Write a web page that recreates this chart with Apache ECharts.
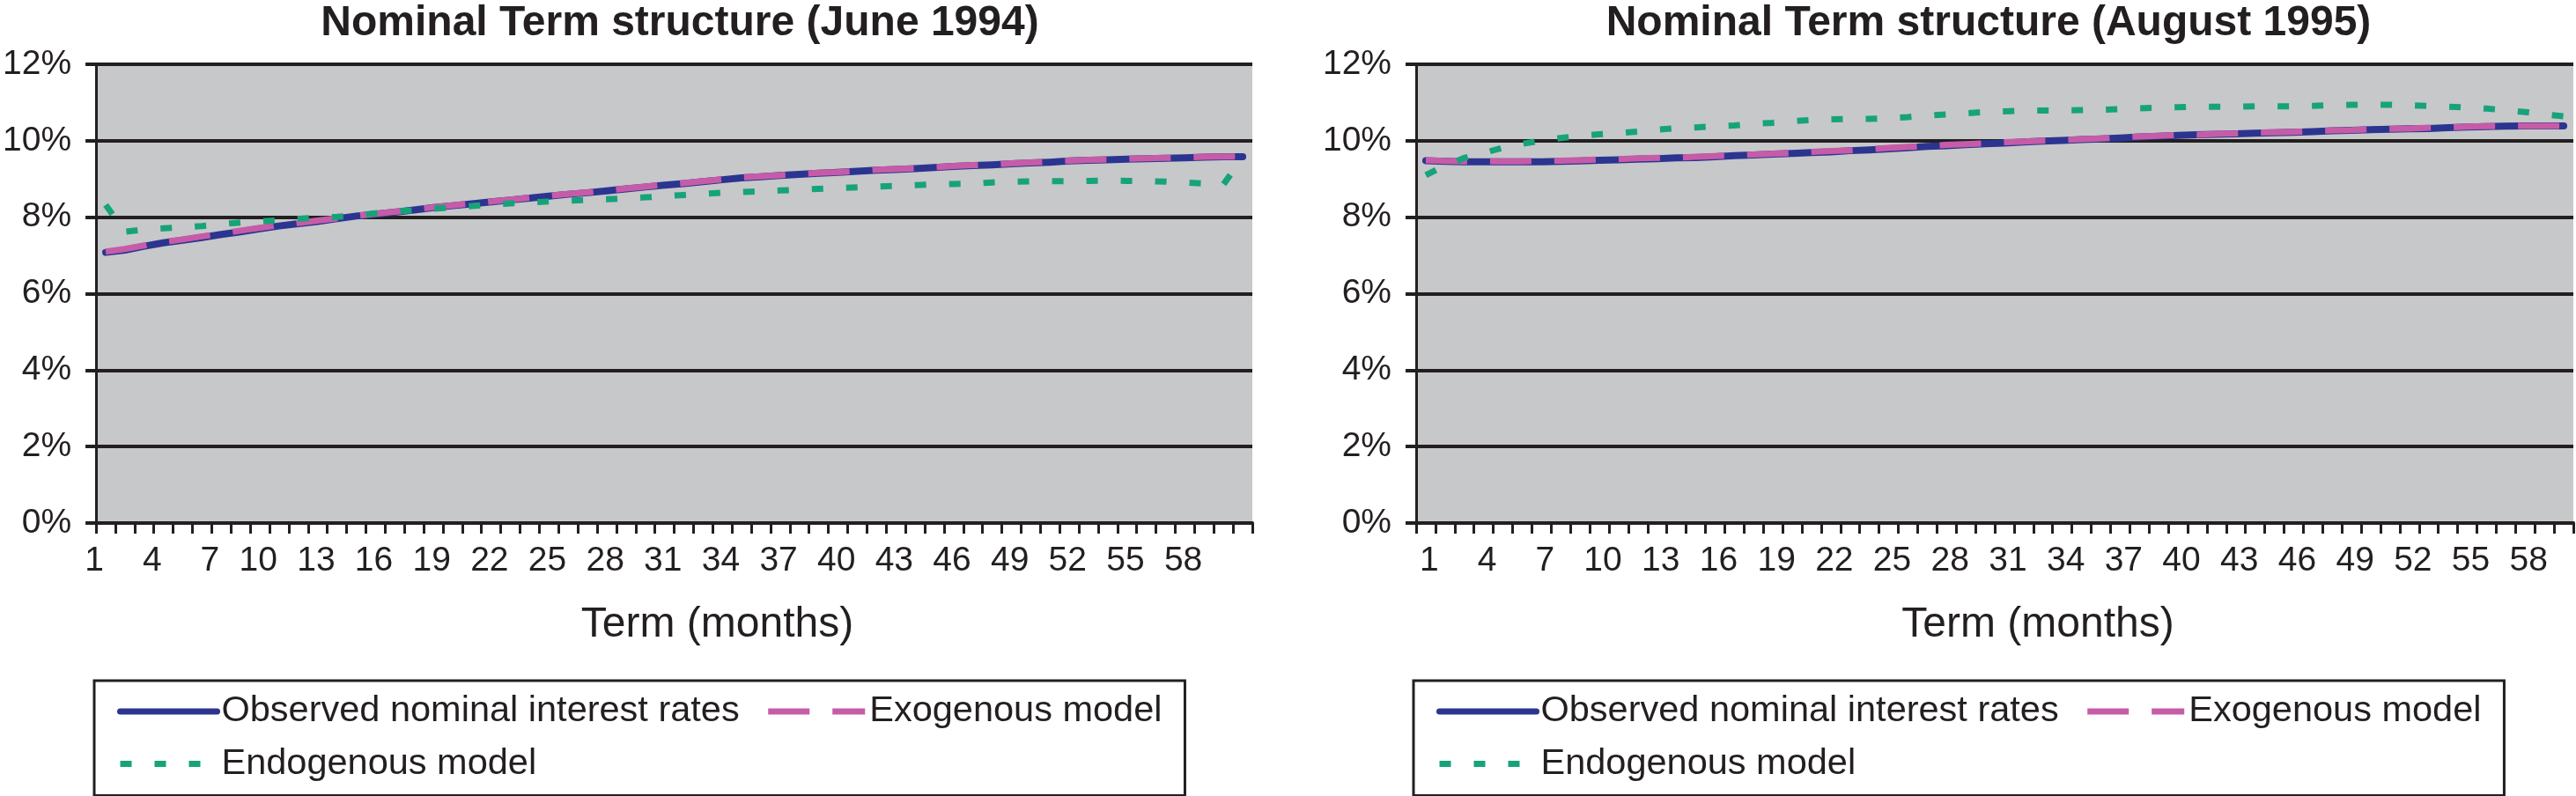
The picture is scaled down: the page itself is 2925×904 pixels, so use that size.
<!DOCTYPE html>
<html>
<head>
<meta charset="utf-8">
<script src="https://cdn.jsdelivr.net/npm/echarts@6/dist/echarts.min.js"></script>
<style>
html,body{margin:0;padding:0;background:#fff;}
#c{width:2925px;height:904px;}
</style>
</head>
<body>
<div id="c"></div>
<script>
// Terms (months)
var terms = [];
for (var t = 1; t <= 60; t++) terms.push(String(t));

var yTicks = [0, 2, 4, 6, 8, 10, 12];

var titleLeft = 'Nominal Term structure (June 1994)';
var titleRight = 'Nominal Term structure (August 1995)';
var xName = 'Term (months)';
var seriesNames = ['Observed nominal interest rates', 'Exogenous model', 'Endogenous model'];

// June 1994 (percent)
var obsJun94 = [7.08,7.14,7.24,7.33,7.40,7.47,7.55,7.62,7.70,7.77,
                7.83,7.89,7.96,8.03,8.08,8.13,8.19,8.25,8.30,8.35,
                8.40,8.45,8.50,8.55,8.60,8.64,8.69,8.74,8.79,8.84,
                8.88,8.93,8.98,9.03,9.06,9.09,9.12,9.15,9.17,9.20,
                9.23,9.25,9.27,9.30,9.33,9.35,9.37,9.40,9.42,9.44,
                9.47,9.49,9.50,9.52,9.53,9.54,9.55,9.57,9.58,9.58];
var exoJun94 = [7.10,7.17,7.26,7.35,7.42,7.50,7.57,7.65,7.72,7.79,
                7.85,7.91,7.97,8.03,8.09,8.14,8.20,8.26,8.31,8.36,
                8.41,8.46,8.51,8.56,8.61,8.65,8.70,8.75,8.80,8.85,
                8.89,8.94,8.99,9.04,9.07,9.10,9.13,9.16,9.18,9.21,
                9.24,9.26,9.28,9.31,9.34,9.36,9.38,9.41,9.43,9.45,
                9.48,9.50,9.51,9.53,9.54,9.55,9.56,9.58,9.59,9.59];
var endoJun94 = [8.32,7.62,7.68,7.71,7.74,7.77,7.82,7.86,7.89,7.92,
                 7.96,7.99,8.01,8.05,8.10,8.15,8.18,8.22,8.26,8.29,
                 8.33,8.36,8.39,8.41,8.43,8.45,8.47,8.49,8.52,8.55,
                 8.58,8.61,8.64,8.66,8.68,8.70,8.72,8.74,8.76,8.78,
                 8.80,8.82,8.84,8.86,8.87,8.88,8.91,8.93,8.94,8.94,
                 8.94,8.95,8.96,8.95,8.94,8.93,8.91,8.88,8.86,9.55];

// August 1995 (percent)
var obsAug95 = [9.48,9.46,9.45,9.45,9.45,9.45,9.45,9.46,9.47,9.49,
                9.50,9.52,9.53,9.55,9.56,9.58,9.61,9.63,9.65,9.67,
                9.69,9.71,9.74,9.76,9.79,9.82,9.85,9.87,9.90,9.92,
                9.94,9.97,9.99,10.01,10.03,10.05,10.07,10.10,10.12,10.14,
                10.16,10.17,10.18,10.20,10.21,10.22,10.24,10.26,10.27,10.29,
                10.30,10.31,10.32,10.34,10.36,10.37,10.38,10.39,10.39,10.39];
var exoAug95 = [9.49,9.47,9.46,9.46,9.46,9.46,9.47,9.48,9.49,9.51,
                9.52,9.54,9.55,9.56,9.58,9.60,9.62,9.64,9.66,9.68,
                9.71,9.73,9.75,9.78,9.81,9.84,9.86,9.89,9.91,9.93,
                9.96,9.98,10.00,10.02,10.04,10.06,10.09,10.11,10.13,10.15,
                10.16,10.18,10.19,10.21,10.22,10.23,10.25,10.27,10.28,10.30,
                10.31,10.32,10.34,10.35,10.37,10.38,10.38,10.39,10.39,10.39];
var endoAug95 = [9.10,9.35,9.55,9.68,9.82,9.92,10.00,10.07,10.13,10.17,
                 10.20,10.24,10.29,10.33,10.35,10.38,10.40,10.44,10.47,10.51,
                 10.54,10.56,10.57,10.57,10.59,10.62,10.66,10.69,10.72,10.75,
                 10.77,10.79,10.79,10.79,10.80,10.81,10.83,10.85,10.87,10.88,
                 10.89,10.89,10.89,10.90,10.90,10.90,10.91,10.93,10.94,10.94,
                 10.94,10.93,10.91,10.89,10.87,10.84,10.80,10.75,10.69,10.64];

var FONT = '"Liberation Sans", Arial, Helvetica, sans-serif';
var INK = '#231F20';
var BLUE = '#2B3590', PINK = '#C65CA8', GREEN = '#17A37A';
var PLOTBG = '#C7C8CA';

function grid(left) {
  return { left: left, top: 73, width: 1314, height: 521, show: true,
           backgroundColor: PLOTBG, borderWidth: 0, containLabel: false };
}
function xAxis(gi, labelAlign, labelPad) {
  return {
    type: 'category', gridIndex: gi, data: terms, boundaryGap: true,
    axisLine: { show: true, lineStyle: { color: INK, width: 4 } },
    axisTick: { show: true, interval: 0, length: 12, lineStyle: { color: INK, width: 3 } },
    axisLabel: { interval: 2, fontSize: 39, color: INK, fontFamily: FONT, margin: 24,
                 align: labelAlign, padding: labelPad },
    splitLine: { show: false },
    name: xName, nameLocation: 'middle', nameGap: 92,
    nameTextStyle: { fontSize: 48, color: INK, fontFamily: FONT, padding: [0, 0, 0, 98] }
  };
}
function yAxis(gi) {
  return {
    type: 'value', gridIndex: gi, min: yTicks[0], max: yTicks[yTicks.length - 1], interval: 2,
    axisLine: { show: true, lineStyle: { color: INK, width: 3 } },
    axisTick: { show: true, length: 12, lineStyle: { color: INK, width: 4 } },
    axisLabel: { formatter: '{value}%', fontSize: 39, color: INK, fontFamily: FONT, margin: 28 },
    splitLine: { show: true, lineStyle: { color: INK, width: 4 } }
  };
}
function lines(gi, obs, exo, endo) {
  return [
    { name: seriesNames[0], type: 'line', xAxisIndex: gi, yAxisIndex: gi, data: obs,
      symbol: 'none', smooth: false, z: 3,
      lineStyle: { color: BLUE, width: 8, cap: 'round', join: 'round' }, itemStyle: { color: BLUE } },
    { name: seriesNames[1], type: 'line', xAxisIndex: gi, yAxisIndex: gi, data: exo,
      symbol: 'none', z: 4,
      lineStyle: { color: PINK, width: 7, type: [47, 26], cap: 'butt' }, itemStyle: { color: PINK } },
    { name: seriesNames[2], type: 'line', xAxisIndex: gi, yAxisIndex: gi, data: endo,
      symbol: 'none', z: 5,
      lineStyle: { color: GREEN, width: 7, type: [13, 26], cap: 'butt' }, itemStyle: { color: GREEN } }
  ];
}
function legend(left) {
  return {
    left: left, top: 773, orient: 'horizontal', width: 1300,
    padding: [14, 26, 15, 26],
    itemWidth: 110, itemHeight: 26, itemGap: 17.5,
    borderColor: INK, borderWidth: 3, borderRadius: 0,
    selectedMode: false,
    itemStyle: { opacity: 0, borderWidth: 0 },
    textStyle: { fontSize: 41.5, color: INK, fontFamily: FONT },
    lineStyle: { width: 7 },
    formatter: function (name) { return name === seriesNames[0] ? name + '\u00a0' : name; },
    data: seriesNames
  };
}

var chart = echarts.init(document.getElementById('c'), null, { renderer: 'canvas' });
chart.setOption({
  animation: false,
  backgroundColor: '#ffffff',
  title: [
    { text: titleLeft, left: 767, top: -2, textAlign: 'center',
      textStyle: { fontSize: 48, fontWeight: 'bold', color: INK, fontFamily: FONT } },
    { text: titleRight, left: 2253, top: -2, textAlign: 'center',
      textStyle: { fontSize: 48, fontWeight: 'bold', color: INK, fontFamily: FONT } }
  ],
  grid: [grid(108), grid(1608)],
  xAxis: [xAxis(0, 'right', [0, 2, 0, 0]), xAxis(1, 'center', [0, 0, 0, 8])],
  yAxis: [yAxis(0), yAxis(1)],
  legend: [legend(107), legend(1605)],
  series: lines(0, obsJun94, exoJun94, endoJun94).concat(lines(1, obsAug95, exoAug95, endoAug95))
});
</script>
</body>
</html>
